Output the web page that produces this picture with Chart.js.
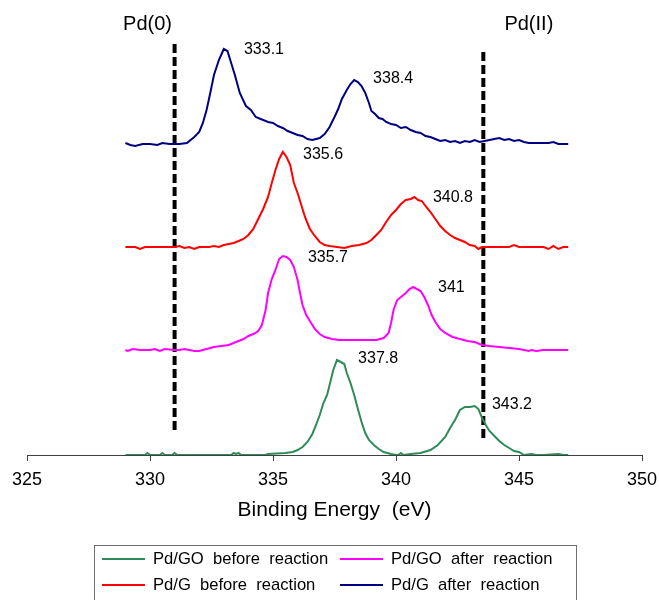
<!DOCTYPE html>
<html>
<head>
<meta charset="utf-8">
<script src="https://cdn.jsdelivr.net/npm/chart.js@4/dist/chart.umd.min.js"></script>
<style>
 body {margin:0; background:#ffffff;}
 canvas {display:block;}
</style>
</head>
<body>
<canvas id="chart" width="659" height="600"></canvas>
<script>
// -----------------------------------------------------------------------------------------------//
//                                      D A T A                                                   //
// -----------------------------------------------------------------------------------------------//

// binding energy ticks (eV)
var energy_min  = 325;
var energy_max  = 350;
var energy_step = 5;

// Pd/G after reaction (stacked, offset already in the values)
var blue_energy = [329.0, 329.2, 329.4, 329.7, 330.0, 330.3, 330.5, 330.8, 331.2, 331.5, 331.8, 332.0, 332.15, 332.3, 332.45, 332.6, 332.8, 333.0, 333.15, 333.3, 333.45, 333.65, 333.9, 334.1, 334.3, 334.5, 334.8, 335.0, 335.2, 335.4, 335.6, 335.8, 336.0, 336.2, 336.4, 336.6, 336.9, 337.1, 337.3, 337.5, 337.65, 337.8, 338.0, 338.15, 338.3, 338.45, 338.6, 338.75, 338.9, 339.0, 339.15, 339.3, 339.45, 339.6, 339.8, 340.0, 340.2, 340.4, 340.6, 340.8, 341.0, 341.2, 341.4, 341.6, 341.8, 342.0, 342.2, 342.4, 342.6, 342.8, 343.0, 343.2, 343.4, 343.6, 343.8, 344.0, 344.2, 344.4, 344.6, 344.8, 345.0, 345.2, 345.4, 345.6, 345.8, 346.0, 346.2, 346.4, 346.6, 346.8, 347.0];
var blue_counts = [312, 310, 309, 311, 311, 310, 312, 311, 311, 312, 318, 323, 332, 345, 362, 380, 395, 406, 404, 392, 380, 362, 349, 345, 338, 336, 333, 332, 329, 327, 324, 322, 320, 319, 316, 315, 317, 321, 328, 338, 346, 356, 365, 371, 375, 373, 369, 362, 352, 344, 341, 337, 336, 333, 331, 330, 327, 328, 325, 323, 322, 319, 318, 316, 314, 315, 313, 314, 312, 314, 313, 315, 313, 314, 315, 316, 317, 315, 316, 314, 315, 313, 312, 312, 312, 312, 312, 313, 311, 311, 311];

// Pd/G before reaction
var red_energy = [329.0, 329.4, 329.6, 329.8, 330.4, 331.0, 331.2, 331.4, 331.6, 331.8, 332.0, 332.4, 332.6, 332.8, 333.0, 333.2, 333.4, 333.6, 333.8, 334.0, 334.2, 334.4, 334.6, 334.8, 334.95, 335.1, 335.25, 335.4, 335.55, 335.7, 335.85, 336.0, 336.15, 336.3, 336.5, 336.7, 336.9, 337.1, 337.3, 337.6, 337.9, 338.2, 338.5, 338.8, 339.0, 339.2, 339.4, 339.6, 339.8, 340.0, 340.2, 340.4, 340.6, 340.75, 340.9, 341.05, 341.2, 341.4, 341.6, 341.8, 342.0, 342.2, 342.4, 342.6, 342.8, 343.0, 343.2, 343.35, 343.5, 344.0, 344.6, 344.8, 345.0, 345.6, 346.0, 346.2, 346.4, 346.6, 346.8, 347.0];
var red_counts = [208, 208, 206, 208, 208, 208, 209, 207, 208, 206, 208, 208, 209, 208, 210, 211, 212, 214, 216, 220, 226, 236, 246, 258, 272, 285, 296, 303, 298, 290, 272, 262, 250, 238, 226, 219, 213, 210, 209, 208, 207, 209, 210, 212, 215, 220, 225, 233, 240, 245, 251, 255, 256, 258, 255, 254, 249, 243, 236, 229, 224, 220, 217, 215, 213, 210, 209, 206, 208, 208, 208, 210, 208, 208, 208, 206, 209, 206, 208, 208];

// Pd/GO after reaction
var magenta_energy = [329.0, 329.1, 329.3, 329.6, 330.0, 330.2, 330.4, 330.6, 331.0, 331.2, 331.4, 331.6, 331.8, 332.0, 332.3, 332.6, 332.9, 333.2, 333.5, 333.8, 334.0, 334.2, 334.4, 334.55, 334.7, 334.8, 334.95, 335.1, 335.25, 335.4, 335.55, 335.7, 335.85, 336.0, 336.1, 336.2, 336.35, 336.5, 336.7, 336.9, 337.1, 337.4, 337.7, 338.0, 338.4, 338.8, 339.2, 339.5, 339.7, 339.8, 339.9, 340.05, 340.2, 340.4, 340.55, 340.7, 340.85, 341.0, 341.15, 341.3, 341.45, 341.6, 341.8, 342.0, 342.3, 342.6, 342.9, 343.2, 343.5, 343.8, 344.2, 344.6, 345.0, 345.4, 345.5, 345.7, 346.0, 346.5, 347.0];
var magenta_counts = [105, 104, 106, 105, 105, 106, 104, 106, 105, 105, 106, 105, 104, 104, 106, 108, 109, 110, 113, 116, 119, 121, 124, 130, 145, 162, 176, 185, 196, 199, 198, 195, 188, 175, 162, 150, 140, 134, 126, 121, 118, 116, 115, 115, 115, 115, 115, 117, 122, 132, 145, 155, 158, 162, 166, 168, 166, 164, 158, 150, 140, 133, 126, 122, 118, 116, 114, 113, 110, 109, 108, 107, 106, 104, 105, 104, 105, 105, 105];

// Pd/GO before reaction
var green_energy = [329.0, 329.8, 329.9, 330.0, 330.4, 330.5, 330.6, 330.9, 331.0, 331.1, 333.3, 333.4, 333.5, 333.6, 333.7, 334.7, 334.8, 335.5, 335.8, 336.0, 336.2, 336.4, 336.6, 336.75, 336.9, 337.05, 337.2, 337.3, 337.45, 337.6, 337.75, 337.9, 338.0, 338.15, 338.3, 338.45, 338.6, 338.75, 338.9, 339.1, 339.3, 339.5, 339.8, 340.0, 340.1, 340.2, 340.3, 340.6, 341.0, 341.4, 341.7, 342.0, 342.2, 342.4, 342.6, 342.8, 343.0, 343.2, 343.35, 343.5, 343.65, 343.8, 344.0, 344.2, 344.4, 344.6, 344.8, 345.0, 345.2, 345.5, 345.7, 346.0, 346.6, 346.8, 347.0];
var green_counts = [0, 0, 2, 0, 0, 2, 0, 0, 2, 0, 0, 2, 1, 2, 0, 0, 1, 2, 3, 5, 8, 13, 21, 30, 40, 52, 60, 70, 85, 95, 93, 91, 82, 72, 60, 46, 33, 22, 15, 10, 6, 3, 1, 0, 0, 2, 0, 1, 2, 5, 10, 18, 27, 35, 45, 48, 48, 49, 46, 37, 30, 24, 19, 14, 10, 7, 4, 3, 0, 1, 0, 0, 1, 0, 0];

// series names and colours (legend order)
var series_names  = ["Pd/GO  before  reaction", "Pd/GO  after  reaction", "Pd/G  before  reaction", "Pd/G  after  reaction"];
var series_colors = ["#2e8b57", "#ff00ff", "#ff0000", "#000080"];

// peak positions written next to each spectrum
var peak_texts  = ["333.1", "338.4", "335.6", "340.8", "335.7", "341", "337.8", "343.2"];
var peak_energy = [333.82, 339.07, 336.22, 341.50, 336.42, 341.71, 338.46, 343.90];
var peak_counts = [405, 376, 300, 257, 197, 167, 96, 50];

// reference lines for the oxidation states
var ref_texts  = ["Pd(0)", "Pd(II)"];
var ref_energy = [331.0, 343.55];
var ref_from   = [25, 17];
var ref_to     = [413, 405];




// -----------------------------------------------------------------------------------------------//
//                                      C H A R T                                                 //
// -----------------------------------------------------------------------------------------------//

var FONT = "'Liberation Sans', Arial, sans-serif";


function Spectrum_Points(energy, counts)
{
 var points = [];
 for(var i = 0; i < energy.length; i++) points.push({x:energy[i], y:counts[i]});
 
 return points;
}



function Spectrum_Dataset(index, energy, counts)
{
 var dataset = {};
 dataset["label"]       = series_names[index];
 dataset["data"]        = Spectrum_Points(energy, counts);
 dataset["borderColor"] = series_colors[index];
 dataset["borderWidth"] = 2;
 dataset["pointRadius"] = 0;
 dataset["tension"]     = 0;
 dataset["fill"]        = false;
 
 return dataset;
}



function Reference_Dataset(index)
{
 var dataset = {};
 dataset["label"]       = ref_texts[index];
 dataset["data"]        = [{x:ref_energy[index], y:ref_from[index]}, {x:ref_energy[index], y:ref_to[index]}];
 dataset["borderColor"] = "#000000";
 dataset["borderWidth"] = 4;
 dataset["borderDash"]  = [9, 4];
 dataset["pointRadius"] = 0;
 dataset["fill"]        = false;
 
 return dataset;
}



// TEXT LABELS (peaks + oxidation states)
var labelsPlugin =
{
 id: "texts",
 afterDatasetsDraw: function(chart)
 {
  var ctx = chart.ctx;
  var x   = chart.scales.x;
  var y   = chart.scales.y;
  
  ctx.save();
  ctx.fillStyle    = "#000000";
  ctx.textBaseline = "middle";
  
  ctx.font      = "16px " + FONT;
  ctx.textAlign = "left";
  for(var i = 0; i < peak_texts.length; i++)
  {
   ctx.fillText(peak_texts[i], x.getPixelForValue(peak_energy[i]), y.getPixelForValue(peak_counts[i]));
  }
  
  ctx.font      = "20px " + FONT;
  ctx.textAlign = "center";
  ctx.fillText(ref_texts[0], x.getPixelForValue(329.9), y.getPixelForValue(431));
  ctx.fillText(ref_texts[1], x.getPixelForValue(345.4), y.getPixelForValue(431));
  
  ctx.restore();
 }
}



// BOXED LEGEND UNDER THE AXIS TITLE
var legendPlugin =
{
 id: "boxlegend",
 afterDraw: function(chart)
 {
  var ctx = chart.ctx;
  
  ctx.save();
  ctx.strokeStyle = "#707070";
  ctx.lineWidth   = 1;
  ctx.strokeRect(94.5, 545.5, 482, 70);
  
  var cols = [102, 340];
  var rows = [559, 585];
  
  ctx.font         = "16.6px " + FONT;
  ctx.textBaseline = "middle";
  ctx.textAlign    = "left";
  
  for(var i = 0; i < series_names.length; i++)
  {
   var cx = cols[i % 2];
   var cy = rows[Math.floor(i / 2)];
   
   ctx.strokeStyle = series_colors[i];
   ctx.lineWidth   = 2;
   ctx.beginPath();
   ctx.moveTo(cx, cy);
   ctx.lineTo(cx + 43, cy);
   ctx.stroke();
   
   ctx.fillStyle = "#000000";
   ctx.fillText(series_names[i], cx + 51, cy);
  }
  
  ctx.restore();
 }
}



function Chart_Build()
{
 var datasets = [];
 datasets.push(Spectrum_Dataset(0, green_energy,   green_counts));
 datasets.push(Spectrum_Dataset(1, magenta_energy, magenta_counts));
 datasets.push(Spectrum_Dataset(2, red_energy,     red_counts));
 datasets.push(Spectrum_Dataset(3, blue_energy,    blue_counts));
 datasets.push(Reference_Dataset(0));
 datasets.push(Reference_Dataset(1));
 
 var config =
 {
  type:    "line",
  data:    {datasets},
  plugins: [labelsPlugin, legendPlugin],
  options:
  {
   responsive: false,
   animation:  false,
   layout:     {padding: {top:15, left:27, right:17, bottom:77}},
   plugins:    {legend: {display:false}, tooltip: {enabled:false}},
   scales:
   {
    x:
    {
     type:   "linear",
     min:    energy_min,
     max:    energy_max,
     border: {display:true, color:"#404040", width:1},
     grid:   {drawOnChartArea:false, drawTicks:true, tickLength:6, color:"#404040"},
     ticks:  {stepSize:energy_step, color:"#000000", padding:8, font:{family:FONT, size:18}},
     title:  {display:true, text:"Binding Energy  (eV)", color:"#000000", padding:0, font:{family:FONT, size:21}},
     afterFit: function(scale)
     {
      scale.height       = 68;
      scale.paddingLeft  = 0;
      scale.paddingRight = 0;
     }
    },
    y:
    {
     display: false,
     min:     0,
     max:     440
    }
   }
  }
 }
 
 var context = document.getElementById("chart").getContext("2d");
 return new Chart(context, config);
}


Chart_Build();
</script>
</body>
</html>
